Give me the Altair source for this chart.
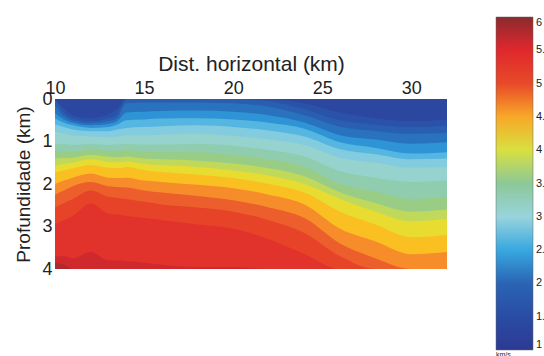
import altair as alt
import pandas as pd

# horizontal positions (km) of the sampled columns
x_km = [10, 10.5, 11, 12, 13, 13.5, 14, 15, 16, 18, 20, 22, 24, 26, 28, 30, 32]

# velocity contour levels (km/s) and their depth (km) in every column
levels = [1.5, 1.75, 2.0, 2.25, 2.5, 2.75, 3.0, 3.25, 3.5, 3.75,
          4.0, 4.25, 4.5, 4.75, 5.0, 5.25, 5.5, 5.75]
d_150 = [0, 0.22, 0.38, 0.45, 0.36, 0.22, 0, 0, 0, 0, 0, 0, 0.1, 0.32, 0.45, 0.52, 0.48]
d_175 = [0, 0.32, 0.45, 0.52, 0.45, 0.35, 0, 0, 0, 0, 0, 0.05, 0.24, 0.5, 0.6, 0.66, 0.63]
d_200 = [0.15, 0.4, 0.51, 0.57, 0.52, 0.44, 0.1, 0.08, 0.08, 0.08, 0.1, 0.18, 0.38, 0.65, 0.75, 0.82, 0.8]
d_225 = [0.33, 0.48, 0.56, 0.62, 0.59, 0.52, 0.32, 0.3, 0.28, 0.27, 0.3, 0.38, 0.55, 0.85, 0.95, 1.05, 1.02]
d_250 = [0.45, 0.56, 0.62, 0.68, 0.66, 0.6, 0.5, 0.48, 0.46, 0.45, 0.48, 0.56, 0.7, 1.02, 1.15, 1.28, 1.25]
d_275 = [0.6, 0.66, 0.72, 0.76, 0.76, 0.72, 0.68, 0.66, 0.64, 0.62, 0.66, 0.74, 0.88, 1.18, 1.3, 1.42, 1.4]
d_300 = [0.77, 0.82, 0.86, 0.88, 0.9, 0.88, 0.85, 0.85, 0.84, 0.82, 0.87, 0.95, 1.08, 1.38, 1.5, 1.62, 1.6]
d_325 = [1.05, 1.06, 1.08, 1.05, 1.08, 1.07, 1.05, 1.07, 1.07, 1.05, 1.1, 1.2, 1.35, 1.7, 1.85, 1.95, 1.92]
d_350 = [1.22, 1.23, 1.24, 1.18, 1.22, 1.22, 1.2, 1.24, 1.25, 1.25, 1.32, 1.42, 1.6, 2.0, 2.18, 2.35, 2.3]
d_375 = [1.4, 1.39, 1.38, 1.32, 1.36, 1.37, 1.35, 1.4, 1.42, 1.45, 1.52, 1.63, 1.82, 2.2, 2.45, 2.65, 2.6]
d_400 = [1.57, 1.53, 1.5, 1.42, 1.48, 1.49, 1.47, 1.53, 1.56, 1.6, 1.68, 1.8, 2.0, 2.35, 2.65, 2.88, 2.82]
d_425 = [1.73, 1.68, 1.63, 1.55, 1.62, 1.63, 1.6, 1.67, 1.72, 1.78, 1.86, 2.0, 2.2, 2.65, 2.95, 3.25, 3.2]
d_450 = [2.0, 1.92, 1.85, 1.75, 1.85, 1.86, 1.85, 1.92, 1.95, 2.02, 2.1, 2.25, 2.48, 3.05, 3.35, 3.65, 3.6]
d_475 = [2.25, 2.15, 2.05, 1.95, 2.05, 2.07, 2.08, 2.15, 2.2, 2.28, 2.38, 2.55, 2.8, 3.4, 3.75, 4.0, 4.0]
d_500 = [2.55, 2.45, 2.35, 2.15, 2.3, 2.33, 2.35, 2.42, 2.48, 2.55, 2.65, 2.85, 3.15, 3.7, 4.0, 4.0, 4.0]
d_525 = [2.95, 2.85, 2.75, 2.45, 2.7, 2.72, 2.75, 2.8, 2.85, 2.95, 3.05, 3.3, 3.65, 4.0, 4.0, 4.0, 4.0]
d_550 = [3.7, 3.7, 3.75, 3.6, 3.8, 3.8, 3.82, 3.85, 3.9, 3.95, 3.95, 4.0, 4.0, 4.0, 4.0, 4.0, 4.0]
d_575 = [3.85, 3.9, 4.0, 4.0, 4.0, 4.0, 4.0, 4.0, 4.0, 4.0, 4.0, 4.0, 4.0, 4.0, 4.0, 4.0, 4.0]

contours = [d_150, d_175, d_200, d_225, d_250, d_275, d_300, d_325, d_350,
            d_375, d_400, d_425, d_450, d_475, d_500, d_525, d_550, d_575]

# band values (km/s): colour of the layer below each contour (first one = above the first contour)
band_values = [1.35, 1.625, 1.875, 2.125, 2.375, 2.625, 2.875, 3.125, 3.375, 3.625,
               3.875, 4.125, 4.375, 4.625, 4.875, 5.125, 5.375, 5.6, 5.8]

# colour bar (jet-like) stops
cb_stops = [1, 1.5, 2, 2.25, 2.5, 2.75, 3, 3.25, 3.5, 3.75, 4, 4.25, 4.5, 4.75, 5, 5.5, 6]
cb_colors = ["#2c3a94", "#2a4ca4", "#2a64b4", "#2a80c8", "#38a8e0", "#70c4e4",
             "#98d4dc", "#98d0c0", "#8cc898", "#b0d070", "#d8e040", "#f8d820",
             "#f8a828", "#f07030", "#e84a28", "#e0282d", "#8b2a2e"]
cb_ticks = [1, 1.5, 2, 2.5, 3, 3.5, 4, 4.5, 5, 5.5, 6]

x_ticks = [10, 15, 20, 25, 30]
y_ticks = [0, 1, 2, 3, 4]

# each band is drawn from its upper contour down to the bottom of the model,
# deeper bands painted later on top (no seams between bands)
rows = []
n = len(contours)
for b in range(n + 1):
    for j, x in enumerate(x_km):
        top = 0.0 if b == 0 else contours[b - 1][j]
        rows.append({"x": x, "top": top, "v": band_values[b], "band": b})
df = pd.DataFrame(rows)

color_scale = alt.Scale(domain=cb_stops, range=cb_colors, type="linear")

chart = alt.Chart(df).mark_area(
    interpolate="monotone", clip=True
).encode(
    x=alt.X("x:Q",
            scale=alt.Scale(domain=[10, 32], nice=False, zero=False),
            axis=alt.Axis(orient="top", values=x_ticks, title="Dist. horizontal (km)",
                          labelFlush=False, ticks=False, domain=False, grid=False,
                          labelPadding=2, titlePadding=5, labelFontSize=18,
                          titleFontSize=21, titleFontWeight="normal")),
    y=alt.Y("top:Q",
            scale=alt.Scale(domain=[0, 4], reverse=True, nice=False, zero=False),
            stack=False,
            axis=alt.Axis(values=y_ticks, title="Profundidade (km)", ticks=False,
                          domain=False, grid=False, labelPadding=3, titlePadding=8,
                          labelFontSize=18, titleFontSize=19, titleFontWeight="normal")),
    y2=alt.datum(4),
    color=alt.Color("v:Q", scale=color_scale,
                    legend=alt.Legend(type="gradient", orient="none", legendX=441, legendY=-82,
                                      direction="vertical", gradientLength=333,
                                      gradientThickness=37, values=cb_ticks,
                                      labelExpr="toString(datum.value)",
                                      labelFontSize=11, labelOffset=3, labelOverlap=False,
                                      labelBaseline="middle",
                                      title="km/s", titleOrient="bottom", titleFontSize=7,
                                      titleFontWeight="normal", titlePadding=1,
                                      titleAnchor="start", padding=0,
                                      gradientStrokeColor="#666666",
                                      gradientStrokeWidth=0.5)),
    detail="band:N",
).properties(
    width=392, height=170,
    autosize=alt.AutoSizeParams(type="none"),
    padding={"left": 55, "top": 99, "right": 97, "bottom": 87},
    background="white",
).configure(
    font="Liberation Sans",
).configure_view(
    stroke="transparent"
).configure_axis(
    labelColor="#222222", titleColor="#222222"
).configure_legend(
    labelColor="#222222", titleColor="#222222"
)

chart.save("out.html", embed_options={"renderer": "svg", "actions": False})
